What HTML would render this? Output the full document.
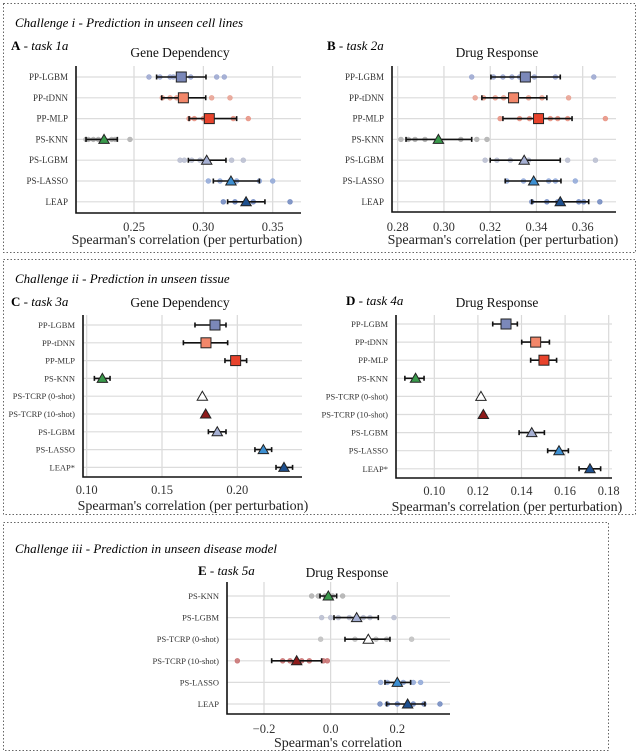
<!DOCTYPE html>
<html><head><meta charset="utf-8"><style>
html,body{margin:0;padding:0;background:#fff;}
svg{display:block;}
svg text{font-family:"Liberation Serif","Times New Roman",serif;}
</style></head><body>
<svg id="fig" width="640" height="755" viewBox="0 0 640 755" xmlns="http://www.w3.org/2000/svg" font-family="Liberation Serif, serif">
<rect x="3.5" y="3.5" width="632" height="249" fill="none" stroke="#666" stroke-dasharray="1.5,2"/>
<rect x="3.5" y="259.5" width="632" height="255" fill="none" stroke="#666" stroke-dasharray="1.5,2"/>
<rect x="3.5" y="522.5" width="605" height="228" fill="none" stroke="#666" stroke-dasharray="1.5,2"/>
<text x="15" y="27" font-size="13" font-style="italic">Challenge i - Prediction in unseen cell lines</text>
<text x="15" y="283" font-size="13" font-style="italic">Challenge ii - Prediction in unseen tissue</text>
<text x="15" y="553" font-size="13" font-style="italic">Challenge iii - Prediction in unseen disease model</text>
<text x="11" y="50" font-size="13"><tspan font-weight="bold">A</tspan> - <tspan font-style="italic">task 1a</tspan></text>
<text x="327" y="50" font-size="13"><tspan font-weight="bold">B</tspan> - <tspan font-style="italic">task 2a</tspan></text>
<text x="11" y="306" font-size="13"><tspan font-weight="bold">C</tspan> - <tspan font-style="italic">task 3a</tspan></text>
<text x="346" y="305" font-size="13"><tspan font-weight="bold">D</tspan> - <tspan font-style="italic">task 4a</tspan></text>
<text x="198" y="575" font-size="13"><tspan font-weight="bold">E</tspan> - <tspan font-style="italic">task 5a</tspan></text>
</svg>
<script>
// ---- Panel A data ----
const labelsA = ["PP-LGBM","PP-tDNN","PP-MLP","PS-KNN","PS-LGBM","PS-LASSO","LEAP"];
const meanA = [0.2841,0.2856,0.3043,0.2284,0.3024,0.3199,0.3308];
const loA = [0.2663,0.2700,0.2897,0.2154,0.2892,0.3072,0.3175];
const hiA = [0.3019,0.3017,0.3240,0.2380,0.3163,0.3404,0.3444];
const dotsA = [[0.2608,0.2687,0.276,0.2784,0.2909,0.3096,0.3151],[0.2704,0.276,0.2808,0.306,0.3192],[0.2897,0.2935,0.30,0.3216,0.3324],[0.2154,0.2171,0.2207,0.2243,0.2339,0.2363,0.2471],[0.2832,0.2863,0.2916,0.2976,0.3204,0.3288],[0.3036,0.312,0.3192,0.324,0.3404,0.35],[0.3144,0.3228,0.3312,0.336,0.3625]];
const ticksA = [0.25,0.30,0.35];
const tickLabelsA = ["0.25","0.30","0.35"];
// ---- Panel B data ----
const labelsB = ["PP-LGBM","PP-tDNN","PP-MLP","PS-KNN","PS-LGBM","PS-LASSO","LEAP"];
const meanB = [0.3352,0.3301,0.3409,0.2976,0.3347,0.3388,0.3503];
const loB = [0.3203,0.3164,0.3255,0.2836,0.3200,0.3265,0.3380];
const hiB = [0.3503,0.3445,0.3554,0.3120,0.3503,0.3506,0.3626];
const dotsB = [[0.312,0.3214,0.3255,0.3294,0.3327,0.3391,0.3482,0.3648],[0.3135,0.3171,0.3222,0.3258,0.3366,0.3424,0.3539],[0.3243,0.3327,0.337,0.346,0.3492,0.3535,0.3698],[0.2814,0.2846,0.2875,0.2918,0.3073,0.3142,0.3186],[0.3178,0.3229,0.3287,0.3366,0.3535,0.3655],[0.3272,0.3344,0.3453,0.3482,0.3568],[0.338,0.3445,0.3492,0.3583,0.3604,0.3674]];
const ticksB = [0.28,0.30,0.32,0.34,0.36];
const tickLabelsB = ["0.28","0.30","0.32","0.34","0.36"];
// ---- Panel C data ----
const labelsC = ["PP-LGBM","PP-tDNN","PP-MLP","PS-KNN","PS-TCRP (0-shot)","PS-TCRP (10-shot)","PS-LGBM","PS-LASSO","LEAP*"];
const meanC = [0.1852,0.1792,0.1989,0.1104,0.1768,0.1790,0.1867,0.2173,0.2310];
const loC = [0.1719,0.1642,0.1918,0.1051,null,null,0.1808,0.2117,0.2257];
const hiC = [0.1925,0.1936,0.2062,0.1155,null,null,0.1925,0.2228,0.2367];
const ticksC = [0.10,0.15,0.20];
const tickLabelsC = ["0.10","0.15","0.20"];
// ---- Panel D data ----
const labelsD = ["PP-LGBM","PP-tDNN","PP-MLP","PS-KNN","PS-TCRP (0-shot)","PS-TCRP (10-shot)","PS-LGBM","PS-LASSO","LEAP*"];
const meanD = [0.1329,0.1465,0.1503,0.0914,0.1214,0.1225,0.1447,0.1572,0.1714];
const loD = [0.1268,0.1401,0.1442,0.0865,null,null,0.1389,0.1520,0.1664];
const hiD = [0.1381,0.1528,0.1561,0.0953,null,null,0.1505,0.1615,0.1763];
const ticksD = [0.10,0.12,0.14,0.16,0.18];
const tickLabelsD = ["0.10","0.12","0.14","0.16","0.18"];
// ---- Panel E data ----
const labelsE = ["PS-KNN","PS-LGBM","PS-TCRP (0-shot)","PS-TCRP (10-shot)","PS-LASSO","LEAP"];
const meanE = [-0.007,0.078,0.113,-0.102,0.200,0.231];
const loE = [-0.032,0.010,0.043,-0.177,0.163,0.168];
const hiE = [0.018,0.143,0.178,-0.027,0.240,0.283];
const dotsE = [[-0.057,-0.037,-0.017,0.006,0.036],[-0.027,0,0.023,0.056,0.098,0.118,0.19],[-0.03,0.073,0.136,0.168,0.243],[-0.28,-0.144,-0.122,-0.087,-0.064,-0.022,-0.01],[0.15,0.17,0.218,0.248,0.27],[0.148,0.17,0.2,0.248,0.28,0.328]];
const ticksE = [-0.2,0.0,0.2];
const tickLabelsE = ["\u22120.2","0.0","0.2"];

const NS = "http://www.w3.org/2000/svg";
const svg = document.getElementById('fig');
const STYLE = {
  "PP-LGBM":{fill:"#7b88b9",dot:"#9aa6d0",shape:"sq"},
  "PP-tDNN":{fill:"#f2876a",dot:"#e9a090",shape:"sq"},
  "PP-MLP":{fill:"#e8432c",dot:"#e89080",shape:"sq"},
  "PS-KNN":{fill:"#3a9a4c",dot:"#b0b0b0",shape:"tri"},
  "PS-TCRP (0-shot)":{fill:"#ffffff",dot:"#c0c0c0",shape:"tri"},
  "PS-TCRP (10-shot)":{fill:"#8e1b1b",dot:"#c87070",shape:"tri"},
  "PS-LGBM":{fill:"#a6b0d3",dot:"#b8bdd0",shape:"tri"},
  "PS-LASSO":{fill:"#3d8fd1",dot:"#90a8d8",shape:"tri"},
  "LEAP":{fill:"#1d4f8e",dot:"#7088c0",shape:"tri"},
  "LEAP*":{fill:"#1d4f8e",dot:"#7088c0",shape:"tri"}
};
function mk(tag, attrs, parent){const e=document.createElementNS(NS,tag);for(const k in attrs)e.setAttribute(k,attrs[k]);(parent||svg).appendChild(e);return e;}

function panel(id, L, labels, mean, lo, hi, dots, ticks, tickLabels, title, xtitle){
  const g = mk('g',{});
  
  
  const sx = v => L.p0 + (v - L.v0) * (L.p1 - L.p0) / (L.v1 - L.v0);
  const ry = i => L.y0 + i * L.step;
  ticks.forEach((t,i)=>{
    const gl = mk('line',{x1:sx(t),x2:sx(t),y1:L.top,y2:L.bottom,stroke:"#d9d9d9","stroke-width":1.2},g);
    
    
    const tl = mk('text',{x:sx(t),y:L.tickY,"font-size":12.5,"text-anchor":"middle",fill:"#333"},g);
    tl.textContent = tickLabels[i];
    
    
  });
  labels.forEach((lab,i)=>{
    const hl = mk('line',{x1:L.spine,x2:L.right,y1:ry(i),y2:ry(i),stroke:"#dcdcdc","stroke-width":1.2},g);
    
    
    const t = mk('text',{x:L.spine-8,y:ry(i)+3,"font-size":L.lfs||9,"text-anchor":"end",fill:"#333"},g);
    t.textContent = lab;
    
    
  });
  const ax = mk('polyline',{points:`${L.spine},${L.top} ${L.spine},${L.bottom} ${L.right},${L.bottom}`,fill:"none",stroke:"#111","stroke-width":1.6},g);
  
  
  const tt = mk('text',{x:L.titleX,y:L.titleY,"font-size":13.5,"text-anchor":"middle",fill:"#111"},g);
  tt.textContent = title;
  
  
  const xt = mk('text',{x:L.xtX,y:L.xtY,"font-size":14,"text-anchor":"middle",fill:"#222"},g);
  xt.textContent = xtitle;
  
  
  labels.forEach((lab,i)=>{
    const st = STYLE[lab], y = ry(i);
    if (dots) dots[i].forEach(v=>{
      const c = mk('circle',{cx:sx(v),cy:y,r:2.4,fill:st.dot,"fill-opacity":0.85,stroke:st.dot,"stroke-width":0.6},g);
      
      
    });
    if (lo[i] !== null){
      const e = mk('path',{d:`M${sx(lo[i])},${y}H${sx(hi[i])}M${sx(lo[i])},${y-2.5}V${y+2.5}M${sx(hi[i])},${y-2.5}V${y+2.5}`,stroke:"#111","stroke-width":1.6,fill:"none"},g);
      
      
    }
    const x = sx(mean[i]);
    let m;
    if (st.shape === 'sq') m = mk('rect',{x:x-5,y:y-5,width:10,height:10,fill:st.fill,stroke:"#222","stroke-width":1},g);
    else m = mk('polygon',{points:`${x-5.2},${y+4} ${x+5.2},${y+4} ${x},${y-5}`,fill:st.fill,stroke:"#222","stroke-width":1},g);
    
    
  });
}
panel('panel-a-gene-dependency',{spine:76,top:66,bottom:213,right:301,y0:77,step:20.8,v0:0.25,p0:134,v1:0.35,p1:272.7,tickY:231,titleX:180,titleY:57,xtX:187,xtY:244},labelsA,meanA,loA,hiA,dotsA,ticksA,tickLabelsA,"Gene Dependency","Spearman's correlation (per perturbation)");
panel('panel-b-drug-response',{spine:392,top:66,bottom:212,right:616,y0:77,step:20.8,v0:0.28,p0:397.7,v1:0.36,p1:582.7,tickY:231,titleX:497,titleY:57,xtX:503,xtY:244},labelsB,meanB,loB,hiB,dotsB,ticksB,tickLabelsB,"Drug Response","Spearman's correlation (per perturbation)");
panel('panel-c-gene-dependency',{spine:83,top:315,bottom:477,right:302,y0:325,step:17.8,v0:0.10,p0:86.7,v1:0.20,p1:237.3,tickY:494,titleX:180,titleY:307,xtX:193,xtY:510,lfs:8.5},labelsC,meanC,loC,hiC,null,ticksC,tickLabelsC,"Gene Dependency","Spearman's correlation (per perturbation)");
panel('panel-d-drug-response',{spine:396,top:315,bottom:478,right:612,y0:324,step:18.1,v0:0.10,p0:434.3,v1:0.18,p1:608.7,tickY:495,titleX:497,titleY:307,xtX:507,xtY:511,lfs:8.5},labelsD,meanD,loD,hiD,null,ticksD,tickLabelsD,"Drug Response","Spearman's correlation (per perturbation)");
panel('panel-e-drug-response',{spine:227,top:582,bottom:714,right:450,y0:596,step:21.6,v0:-0.2,p0:264,v1:0.2,p1:397.3,tickY:733,titleX:347,titleY:577,xtX:338,xtY:747,lfs:8.5},labelsE,meanE,loE,hiE,dotsE,ticksE,tickLabelsE,"Drug Response","Spearman's correlation");
</script>
</body></html>
